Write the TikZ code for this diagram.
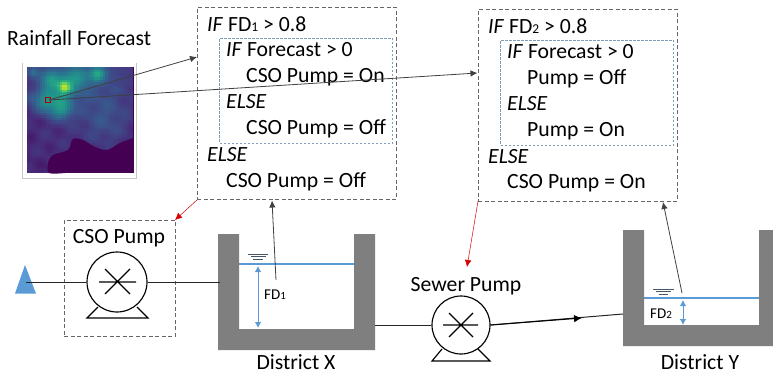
\documentclass[tikz,border=0pt]{standalone}
\usepackage{fontspec}
\setmainfont{Carlito}
\usetikzlibrary{arrows.meta}
\definecolor{wblue}{HTML}{5B9BD5}
\definecolor{tankgray}{HTML}{7F7F7F}
\definecolor{dashgray}{HTML}{666666}
\definecolor{innerblue}{HTML}{7F9DB9}
\definecolor{darkv}{HTML}{440154}
\tikzset{
  x=1pt,y=-1pt,
  dashbox/.style={draw=dashgray,dashed,line width=0.9pt,dash pattern=on 4pt off 2.5pt,inner sep=0pt,anchor=north west},
  innerbox/.style={draw=innerblue,line width=1pt,dash pattern=on 2.5pt off 1.5pt,inner sep=0pt,anchor=north west},
  rule/.style={anchor=base west,inner sep=0pt,font=\fontsize{21.7}{24}\selectfont,text=black},
  big/.style={inner sep=0pt,font=\fontsize{21.7}{24}\selectfont,text=black},
  fd/.style={inner sep=0pt,font=\fontsize{15}{17}\selectfont,text=black},
  sig/.style={draw=black!75,line width=0.8pt,-{Latex[length=7pt,width=6.5pt]}},
  redsig/.style={draw=red!85!black,line width=0.5pt,-{Latex[length=7pt,width=6.5pt]}},
  pipe/.style={draw=black!85,line width=1pt},
  pumpline/.style={draw=black,line width=1.15pt},
  level/.style={draw=wblue,line width=2.6pt},
  depth/.style={draw=wblue,line width=1pt,{Latex[length=6pt,width=6.5pt]}-{Latex[length=6pt,width=6.5pt]}},
  surf/.style={draw=black!45!innerblue,line width=0.6pt},
  tank/.style={fill=tankgray,draw=none},
  declare function={gs(\a,\b,\c)=exp(-((\uu-\a)^2+(\vv-\b)^2)/\c);}
}
\newcommand{\subsm}[1]{{\fontsize{13.5}{12}\selectfont #1}}
\newcommand{\subfd}[1]{{\fontsize{11}{10}\selectfont #1}}
\def\vr#1{\ifcase#1 68\or 71\or 59\or 44\or 33\or 40\or 94\or 173\or 253\else 253\fi}
\def\vg#1{\ifcase#1 1\or 45\or 82\or 114\or 145\or 174\or 201\or 220\or 231\else 231\fi}
\def\vb#1{\ifcase#1 84\or 123\or 139\or 142\or 140\or 128\or 98\or 48\or 37\else 37\fi}
\begin{document}
\begin{tikzpicture}
\useasboundingbox (0,0) rectangle (773,374);
% ---------- forecast picture
\node[big,anchor=base west] (title) at (7,46) {Rainfall Forecast};
\draw[draw=black!22,line width=0.8pt] (22,63) -- (22,178) -- (136.5,178) -- (136.5,63);
\fill[darkv] (27,67) rectangle (133.5,173);
\foreach \i in {0,...,41}{
 \foreach \j in {0,...,41}{
  \pgfmathsetmacro\uu{(\i+.5)*0.0253}
  \pgfmathsetmacro\vv{(\j+.5)*0.0253}
  \pgfmathsetmacro\val{max(0.02,min(0.98,
     0.095
     +0.14*exp(-((\uu-.60)^2/.30+(\vv-.10)^2/.12))
     +0.13*gs(.78,.55,.07)
     +0.03*gs(.25,.75,.08)
     +0.018*(sin(1500*\uu+800*\vv)+sin(900*\uu-1700*\vv))*(\vv>.2)
     +0.42*gs(.38,.20,.0035)
     +0.28*gs(.33,.24,.025)
     +0.24*gs(.23,.12,.0100)
     +0.36*gs(.71,.07,.0060)
     +0.24*gs(.50,.10,.0140)
     +0.30*gs(.18,.36,.0110)
     +0.30*gs(.35,.43,.0100)
     +0.20*gs(.06,.05,.0040)
     +0.14*gs(.03,.30,.0040)))}
  \pgfmathsetmacro\kk{int(floor(\val*8))}
  \pgfmathsetmacro\ff{\val*8-\kk}
  \edef\ra{\vr{\kk}}\edef\rb{\vr{\numexpr\kk+1\relax}}
  \edef\ga{\vg{\kk}}\edef\gb{\vg{\numexpr\kk+1\relax}}
  \edef\ba{\vb{\kk}}\edef\bc{\vb{\numexpr\kk+1\relax}}
  \pgfmathsetmacro\rr{(\ra*(1-\ff)+\rb*\ff)/255}
  \pgfmathsetmacro\gg{(\ga*(1-\ff)+\gb*\ff)/255}
  \pgfmathsetmacro\bb{(\ba*(1-\ff)+\bc*\ff)/255}
  \definecolor{hc}{rgb}{\rr,\gg,\bb}
  \fill[hc] (27+\i*2.53,67+\j*2.53) rectangle ++(2.7,2.7);
 }
}
\fill[darkv] plot[smooth] coordinates {(65,173) (49,173) (48,163) (53,155) (68,150) (73,139) (83,140) (95,147) (107,150) (120,143) (133.5,138)} -- (133.5,173) -- cycle;
\draw[draw=red!70!black,line width=0.8pt] (45.5,97.5) rectangle (50.5,102.5);
\coordinate (cell) at (49,100);
% ---------- controller boxes
\node[dashbox,minimum width=199pt,minimum height=192pt] (box1) at (197,7) {};
\node[innerbox,minimum width=173pt,minimum height=105pt] (in1) at (219,38) {};
\node[rule] (a1) at (207,32) {\textit{IF} FD\subsm{1} > 0.8};
\node[rule] (a2) at (226,57) {\textit{IF} Forecast > 0};
\node[rule] (a3) at (246,83) {CSO Pump = On};
\node[rule] (a4) at (226,109) {\textit{ELSE}};
\node[rule] (a5) at (246,135) {CSO Pump = Off};
\node[rule] (a6) at (207,162) {\textit{ELSE}};
\node[rule] (a7) at (226,187) {CSO Pump = Off};
\node[dashbox,minimum width=199pt,minimum height=192pt] (box2) at (478,9) {};
\node[innerbox,minimum width=173pt,minimum height=105pt] (in2) at (500,40) {};
\node[rule] (b1) at (488,34) {\textit{IF} FD\subsm{2} > 0.8};
\node[rule] (b2) at (507,59) {\textit{IF} Forecast > 0};
\node[rule] (b3) at (527,85) {Pump = Off};
\node[rule] (b4) at (507,111) {\textit{ELSE}};
\node[rule] (b5) at (527,137) {Pump = On};
\node[rule] (b6) at (488,164) {\textit{ELSE}};
\node[rule] (b7) at (507,189) {CSO Pump = On};
% ---------- tanks
\fill[tank] (218,234) -- (239,234) -- (239,329) -- (354,329) -- (354,234) -- (375,234) -- (375,350) -- (218,350) -- cycle;
\fill[tank] (623,230) -- (644,230) -- (644,325) -- (759,325) -- (759,230) -- (773,230) -- (773,346) -- (623,346) -- cycle;
\node[big] (dx) at (296,362) {District X};
\node[big] (dy) at (700,362) {District Y};
\draw[level] (239,264) -- (354,264);
\draw[level] (644,298) -- (759,298);
\draw[surf] (248,254) -- (268,254) (251,256.7) -- (266,256.7) (253,259.3) -- (263,259.3);
\draw[surf] (653,289) -- (674,289) (656,291.7) -- (671,291.7) (659,294.3) -- (668,294.3);
\coordinate (d1t) at (258,266);
\coordinate (d1b) at (258,328);
\coordinate (d2t) at (683,300);
\coordinate (d2b) at (683,325);
\draw[depth] (d1t) -- (d1b);
\draw[depth] (d2t) -- (d2b);
\node[fd] (fd1) at (275,295) {FD\subfd{1}};
\node[fd] (fd2) at (661,314) {FD\subfd{2}};
% ---------- pumps
\node[inner sep=0pt,minimum size=60pt,circle,draw=black,line width=1.15pt,fill=white] (p1) at (117,282) {};
\draw[pumpline] (98,307) -- (87,318) -- (148,318) -- (137,307);
\draw[pumpline] (105,269) -- (130,294) (105,294) -- (130,269) (99,282) -- (136,282);
\node[inner sep=0pt,minimum size=58pt,circle,draw=black,line width=1.15pt,fill=white] (p2) at (461,325) {};
\draw[pumpline] (442,349) -- (432,361) -- (490,361) -- (478,349);
\draw[pumpline] (449,313) -- (473,337) (449,337) -- (473,313) (443,325) -- (478,325);
\node[dashbox,minimum width=111pt,minimum height=116pt] (pb) at (64,220) {};
\node[big] (csol) at (119,238) {CSO Pump};
\node[big] (swl) at (466,286) {Sewer Pump};
\node[draw=none,fill=wblue,inner sep=0pt] (outfall) at (25,282) {};
\fill[wblue] (25,265) -- (36,293.5) -- (15,293.5) -- cycle;
% ---------- pipes
\coordinate (txl) at (220,282);
\coordinate (txr) at (375,325);
\coordinate (tyl) at (623,314);
\coordinate (mid) at (582,318);
\draw[pipe] (outfall) -- (p1.west);
\draw[pipe] (p1.east) -- (txl);
\draw[pipe] (txr) -- (p2.west);
\draw[pipe] (p2.east) -- (tyl);
\draw[black,line width=1pt,-{Latex[length=8pt,width=7.5pt]}] (p2.east) -- (mid);
% ---------- signals
\coordinate (b1l) at (197,57);
\coordinate (b2l) at (477.5,73);
\coordinate (b1bot) at (272,200.5);
\coordinate (b2bot) at (663,202);
\coordinate (l1) at (276,280);
\coordinate (l2) at (682,293);
\coordinate (b1c) at (197,200);
\coordinate (pbc) at (175,220);
\coordinate (b2c) at (478,201);
\coordinate (spc) at (467,267);
\draw[sig] (cell) -- (b1l);
\draw[sig] (cell) -- (b2l);
\draw[sig] (l1) -- (b1bot);
\draw[sig] (l2) -- (b2bot);
\draw[redsig] (b1c) -- (pbc);
\draw[redsig] (b2c) -- (spc);
\end{tikzpicture}
\end{document}
